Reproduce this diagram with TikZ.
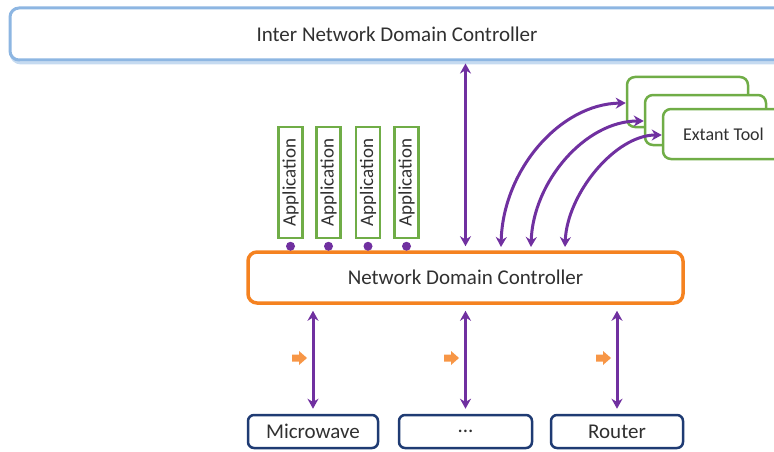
\documentclass[tikz,border=0pt]{standalone}
\usepackage{fontspec}
\setmainfont{Carlito}
\usetikzlibrary{arrows.meta}
\definecolor{pur}{HTML}{7030A0}
\definecolor{org}{HTML}{F58220}
\definecolor{lorg}{HTML}{F79646}
\definecolor{grn}{HTML}{70AD47}
\definecolor{navy}{HTML}{1F3B73}
\definecolor{lblue}{HTML}{8DB6E2}
\definecolor{llblue}{HTML}{C5DAF0}
\definecolor{txt}{HTML}{303030}
\tikzset{
  topbox/.style={draw=lblue, line width=3pt, rounded corners=9pt, fill=white, text=txt,
    font=\fontsize{21}{24}\selectfont, minimum width=774pt, minimum height=52pt, inner sep=0pt},
  ndcbox/.style={draw=org, line width=3.5pt, rounded corners=9pt, fill=white, text=txt,
    font=\fontsize{21}{24}\selectfont, minimum width=435pt, minimum height=51pt, inner sep=0pt},
  appbox/.style={draw=grn, line width=2.5pt, fill=white, text=txt, rotate=90,
    font=\fontsize{19}{22}\selectfont, minimum width=111pt, minimum height=24pt, inner sep=0pt},
  toolbox/.style={draw=grn, line width=2.5pt, rounded corners=8pt, fill=white, text=txt,
    font=\fontsize{18}{21}\selectfont, minimum width=121pt, minimum height=50pt, inner sep=0pt},
  devbox/.style={draw=navy, line width=2.5pt, rounded corners=6pt, fill=white, text=txt,
    font=\fontsize{21}{24}\selectfont, minimum height=33pt, inner sep=0pt},
  dotnode/.style={circle, fill=pur, inner sep=0pt, minimum size=9pt},
  parr/.style={draw=pur, line width=3pt, {Stealth[length=10pt,width=11pt]}-{Stealth[length=10pt,width=11pt]}},
}
\newcommand{\orgarrow}[2]{\fill[lorg] (#1,#2-3.5) -- (#1+7,#2-3.5) -- (#1+7,#2-7) -- (#1+15,#2) -- (#1+7,#2+7) -- (#1+7,#2+3.5) -- (#1,#2+3.5) -- cycle;}
\begin{document}
\begin{tikzpicture}[x=1pt,y=-1pt]
\useasboundingbox (0,0) rectangle (774,452);
\clip (0,0) rectangle (774,452);

\draw[llblue, line width=3pt, rounded corners=10pt] (11,9) rectangle (788,63);
\node[topbox] (inter) at (397,34) {Inter Network Domain Controller};
\node[ndcbox] (ndc) at (465.5,277.5) {Network Domain Controller};

\node[appbox] (a1) at (290.5,182.5) {Application};
\node[appbox] (a2) at (328.5,182.5) {Application};
\node[appbox] (a3) at (368,182.5) {Application};
\node[appbox] (a4) at (406.5,182.5) {Application};
\foreach \i in {1,...,4} {\node[dotnode] (d\i) at ([yshift=-7pt]a\i.west) {};}

\node[toolbox] (t1) at (687.5,102) {};
\node[toolbox] (t2) at (705.5,120) {};
\node[toolbox] (t3) at (723.5,134) {Extant Tool};

\coordinate (c1) at (501,252);
\coordinate (c2) at (531,252);
\coordinate (c3) at (565,252);
\draw[parr] (c1) ++(0,-5) .. controls (503,170) and (560,104) .. (t1.west |- 0,103);
\draw[parr] (c2) ++(0,-5) .. controls (533,182) and (585,121) .. (t2.west |- 0,121);
\draw[parr] (c3) ++(0,-5) .. controls (567,194) and (615,135) .. (t3.west |- 0,135);

\draw[parr, shorten >=4pt, shorten <=2pt] (inter.south -| ndc.north) -- (ndc.north);

\node[devbox, minimum width=130pt] (mw) at (313,431.5) {Microwave};
\node[devbox, minimum width=133pt] (dd) at (465.5,431.5) {...};
\node[devbox, minimum width=132pt] (rt) at (617,431.5) {Router};

\draw[parr, shorten >=5pt, shorten <=6pt] (ndc.south -| mw.north) -- (mw.north);
\draw[parr, shorten >=5pt, shorten <=6pt] (ndc.south -| dd.north) -- (dd.north);
\draw[parr, shorten >=5pt, shorten <=6pt] (ndc.south -| rt.north) -- (rt.north);

\orgarrow{292}{358}
\orgarrow{444}{358}
\orgarrow{596}{358}
\end{tikzpicture}
\end{document}
